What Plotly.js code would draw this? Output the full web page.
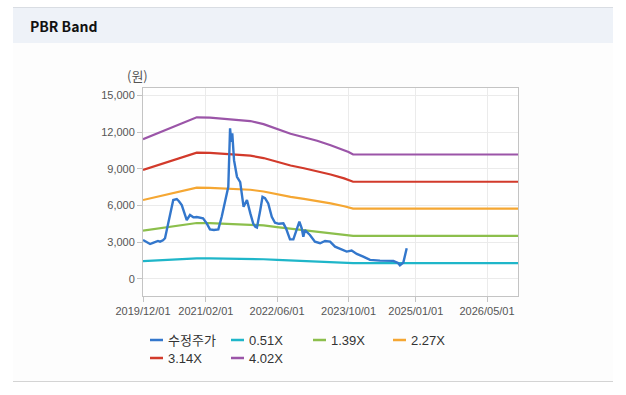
<!DOCTYPE html>
<html>
<head>
<meta charset="utf-8">
<script src="https://cdn.plot.ly/plotly-3.0.1.min.js"></script>
<style>
  html, body { margin: 0; padding: 0; background: #ffffff; }
  #wrap { position: relative; width: 626px; height: 395px; overflow: hidden; background: #ffffff; }
  #head { position: absolute; left: 13px; top: 7px; width: 600px; height: 35px; background: #eef2f8; border-top: 1px solid #d9dde3; }
  #head span { position: absolute; left: 17px; top: 8px; font-family: "Noto Sans CJK KR", "Noto Sans", sans-serif; font-weight: bold; font-size: 14px; color: #111; }
  #panel { position: absolute; left: 13px; top: 43px; width: 600px; height: 338px; background: #fdfdfd; border-bottom: 1px solid #d4d4d4; }
  #chart { position: absolute; left: 0; top: 0; width: 626px; height: 395px; }
</style>
</head>
<body>
<div id="wrap">
  <div id="head"><span>PBR Band</span></div>
  <div id="panel"></div>
  <div id="chart"></div>
</div>
<script>
// ---- data ----
const seriesNames = ['수정주가', '0.51X', '1.39X', '2.27X', '3.14X', '4.02X'];
const seriesColors = ['#3377cc', '#1fb6c9', '#8cbf4c', '#f5a733', '#d23a2b', '#9b55a8'];

const priceDates = ['2019-12-01','2019-12-25','2020-01-18','2020-02-07','2020-02-21','2020-03-12','2020-03-26','2020-04-15','2020-04-29',
  '2020-05-21','2020-06-09','2020-06-24','2020-07-18','2020-08-02','2020-08-21','2020-09-05','2020-09-24','2020-10-16','2020-11-08',
  '2020-12-01','2020-12-23','2021-01-13','2021-02-07','2021-03-01','2021-03-28','2021-04-27','2021-05-20','2021-06-11','2021-07-04',
  '2021-07-16','2021-07-24','2021-07-31','2021-08-12','2021-09-01','2021-09-23','2021-10-16','2021-11-08','2021-12-01','2021-12-21',
  '2022-01-04','2022-01-15','2022-02-05','2022-02-22','2022-03-11','2022-04-02','2022-04-26','2022-05-18','2022-06-14','2022-07-14',
  '2022-08-01','2022-08-28','2022-09-20','2022-10-17','2022-10-31','2022-11-16','2022-11-27','2022-12-08','2022-12-25','2023-01-11',
  '2023-02-14','2023-03-21','2023-04-24','2023-05-28','2023-07-01','2023-08-15','2023-09-18','2023-10-22','2023-11-26','2024-01-09',
  '2024-02-24','2024-05-02','2024-08-01','2024-09-02','2024-09-15','2024-10-08','2024-10-31'];
const priceValues = [3180,3000,2850,2950,3040,3100,3040,3150,3320,
  4540,5800,6440,6520,6350,6030,5400,4810,5220,5030,
  5050,5000,4950,4540,4050,4000,4050,5080,6170,7520,
  12300,11200,11900,9700,8340,7900,5890,6440,5350,4500,
  4260,4200,5500,6700,6600,6170,5080,4590,4500,4540,
  4130,3230,3230,4130,4670,4130,3450,3990,3800,3590,
  3040,2910,3100,3040,2630,2420,2230,2310,2040,1820,
  1550,1490,1470,1300,1100,1330,2500];

const bandDates = ['2019-12-01','2020-03-01','2020-06-01','2020-09-01','2020-12-01','2021-03-01','2021-06-01','2021-09-01','2021-12-01',
  '2022-03-01','2022-06-01','2022-09-01','2022-12-01','2023-03-01','2023-06-01','2023-09-01','2023-10-01','2023-11-01','2026-11-28'];
const band051 = [1447,1505,1561,1618,1675,1672,1660,1647,1637,1604,1551,1505,1468,1432,1386,1334,1315,1289,1289];
const band139 = [3945,4101,4255,4410,4565,4558,4523,4490,4461,4372,4227,4101,4002,3903,3777,3635,3585,3514,3514];
const band227 = [6442,6697,6948,7203,7455,7443,7387,7332,7284,7139,6903,6697,6535,6374,6168,5936,5854,5739,5739];
const band314 = [8911,9263,9612,9963,10312,10296,10218,10142,10076,9875,9549,9263,9040,8817,8531,8211,8098,7938,7938];
const band402 = [11409,11859,12305,12755,13202,13182,13081,12985,12900,12643,12225,11859,11574,11288,10922,10512,10368,10163,10163];

const xTickVals = ['2019-12-01','2021-02-01','2022-06-01','2023-10-01','2025-01-01','2026-05-01'];
const xTickText = ['2019/12/01','2021/02/01','2022/06/01','2023/10/01','2025/01/01','2026/05/01'];
const yTickVals = [0, 3000, 6000, 9000, 12000, 15000];
const unitLabel = '(원)';

// ---- layout helpers ----
const W = 626, H = 395;
const M = { l: 143, r: 108, t: 88, b: 99 };
const PW = W - M.l - M.r, PH = H - M.t - M.b;
const px = x => (x - M.l) / PW;
const py = y => (H - M.b - y) / PH;

const FONT = 'Liberation Sans, Arial, "Noto Sans CJK KR", sans-serif';

const bandSeries = [band051, band139, band227, band314, band402];
const traces = [];
bandSeries.forEach((vals, i) => {
  traces.push({ type: 'scatter', mode: 'lines', name: seriesNames[i + 1], x: bandDates, y: vals,
    line: { color: seriesColors[i + 1], width: 2.2 }, hoverinfo: 'skip' });
});
traces.push({ type: 'scatter', mode: 'lines', name: seriesNames[0], x: priceDates, y: priceValues,
  line: { color: seriesColors[0], width: 2.4 }, hoverinfo: 'skip' });

// custom legend (short line + label), 4 columns
const colX = [150, 231, 313, 393];
const rowY = [340, 358];
const shapes = [];
const annotations = [{
  xref: 'paper', yref: 'paper', x: px(137), y: py(75), xanchor: 'center', yanchor: 'middle',
  text: unitLabel, showarrow: false, font: { family: '"Noto Sans CJK KR", sans-serif', size: 13, color: '#555' }
}];
seriesNames.forEach((nm, i) => {
  const cx = colX[i % 4], ry = rowY[Math.floor(i / 4)];
  shapes.push({ type: 'line', xref: 'paper', yref: 'paper', x0: px(cx), x1: px(cx + 13), y0: py(ry), y1: py(ry),
    line: { color: seriesColors[i], width: 2.5 } });
  annotations.push({ xref: 'paper', yref: 'paper', x: px(cx + 16), y: py(ry), xanchor: 'left', yanchor: 'middle',
    text: nm, showarrow: false, font: { family: FONT, size: 13, color: '#333' } });
});

const layout = {
  width: W, height: H,
  margin: M,
  paper_bgcolor: 'rgba(0,0,0,0)',
  plot_bgcolor: '#ffffff',
  showlegend: false,
  font: { family: FONT, size: 11, color: '#555' },
  xaxis: {
    type: 'date', range: ['2019-12-01', '2026-11-28'],
    tickmode: 'array', tickvals: xTickVals, ticktext: xTickText,
    ticks: 'outside', ticklen: 5, tickcolor: '#c4c4c4',
    showline: true, mirror: true, linecolor: '#c4c4c4', linewidth: 1,
    showgrid: true, gridcolor: '#ebebeb', zeroline: false,
    tickfont: { family: FONT, size: 11, color: '#555' }
  },
  yaxis: {
    range: [-1400, 15600],
    tickmode: 'array', tickvals: yTickVals, tickformat: ',',
    ticks: 'outside', ticklen: 5, tickcolor: '#c4c4c4',
    showline: true, mirror: true, linecolor: '#c4c4c4', linewidth: 1,
    showgrid: true, gridcolor: '#ebebeb', zeroline: false,
    tickfont: { family: FONT, size: 11, color: '#555' }
  },
  shapes: shapes,
  annotations: annotations
};

Plotly.newPlot('chart', traces, layout, { displayModeBar: false, staticPlot: true });
</script>
</body>
</html>
